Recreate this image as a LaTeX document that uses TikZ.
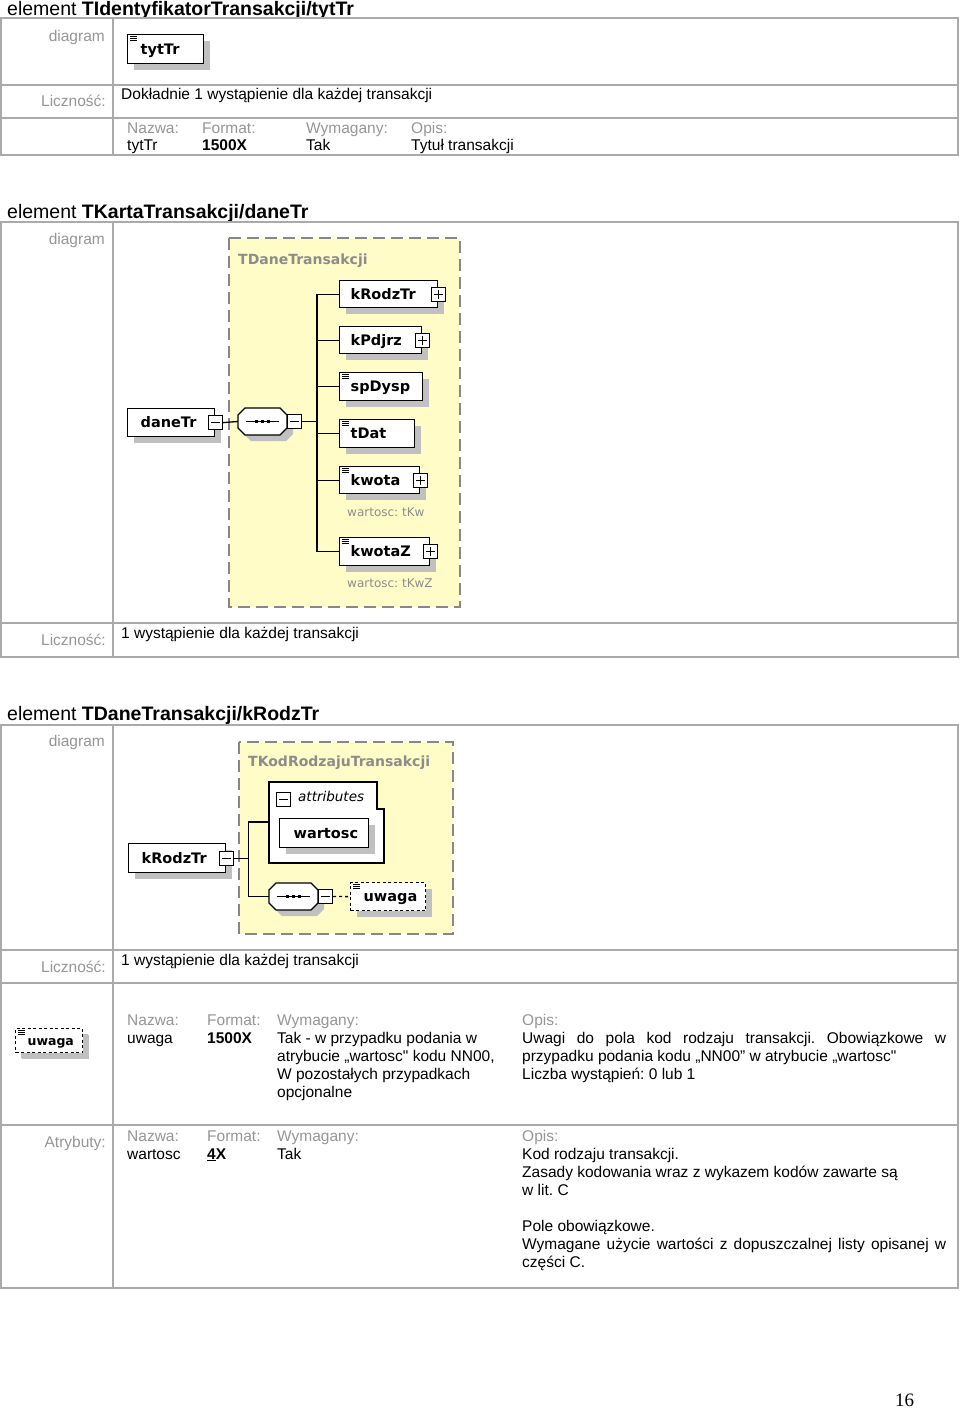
\documentclass[tikz,border=0pt]{standalone}
\usepackage{fontspec}
\setmainfont{Liberation Sans}[Ligatures=TeXOff]
\newfontfamily\dvfont{DejaVu Sans}
\newfontfamily\serfont{Liberation Serif}
\usetikzlibrary{shadows}
\definecolor{tblgray}{RGB}{170,170,170}
\definecolor{lblgray}{RGB}{150,150,150}
\definecolor{shgray}{RGB}{192,192,192}
\definecolor{yel}{RGB}{255,252,200}
\definecolor{dashgray}{RGB}{135,135,135}
\definecolor{grptxt}{RGB}{140,140,140}
\newcommand{\fb}{\fontsize{15.5}{18}\selectfont}
\newcommand{\plusbx}[2]{\node[pm] (#1) at (#2) {};
  \draw[line width=1pt] ([xshift=3pt]#1.west) -- ([xshift=-3pt]#1.east);
  \draw[line width=1pt] ([yshift=-3pt]#1.north) -- ([yshift=3pt]#1.south);}
\newcommand{\minusbx}[2]{\node[pm] (#1) at (#2) {};
  \draw[line width=1pt] ([xshift=3pt]#1.west) -- ([xshift=-3pt]#1.east);}
\newcommand{\ico}[1]{\draw[line width=0.8pt] ([shift={(3pt,-2.5pt)}]#1.north west) -- ++(7,0)
  ([shift={(3pt,-4.5pt)}]#1.north west) -- ++(7,0)
  ([shift={(3pt,-6.5pt)}]#1.north west) -- ++(7,0);}
% octagon: name, x1, y1, x2, y2
\newcommand{\octa}[5]{%
  \fill[shgray] (#2+13,#3+6) -- (#4-1,#3+6) -- (#4+6,#3+13) -- (#4+6,#5-1) -- (#4-1,#5+6) -- (#2+13,#5+6) -- (#2+6,#5-1) -- (#2+6,#3+13) -- cycle;
  \draw[line width=1.3pt,fill=white] (#2+7,#3) -- (#4-7,#3) -- (#4,#3+7) -- (#4,#5-7) -- (#4-7,#5) -- (#2+7,#5) -- (#2,#5-7) -- (#2,#3+7) -- cycle;
  \node[inner sep=0pt,minimum width=#4-#2,minimum height=#5-#3] (#1) at ({(#2+#4)/2},{(#3+#5)/2}) {};
  \draw[line width=1.2pt] ([xshift=8pt]#1.west) -- ([xshift=-8pt]#1.east);
  \fill ([shift={(-7.5pt,1.5pt)}]#1.center) rectangle ++(3,3);
  \fill ([shift={(-1.5pt,1.5pt)}]#1.center) rectangle ++(3,3);
  \fill ([shift={(4.5pt,1.5pt)}]#1.center) rectangle ++(3,3);}
\begin{document}
\frenchspacing
\begin{tikzpicture}[x=1pt,y=-1pt,
  tbl/.style={draw=tblgray,line width=1.5pt},
  lab/.style={text=lblgray,font=\fb,anchor=base east,inner sep=0pt},
  hd/.style={text=lblgray,font=\fb,anchor=base west,inner sep=0pt},
  val/.style={text=black,font=\fb,anchor=base west,inner sep=0pt},
  ttl/.style={font=\fontsize{19.5}{22}\selectfont,anchor=base west,inner sep=0pt},
  elem/.style={draw=black,line width=1.3pt,fill=white,inner xsep=11pt,inner ysep=0pt,
    minimum height=28pt,text height=10pt,text depth=0pt,align=left,
    font=\dvfont\bfseries\fontsize{14.5}{14}\selectfont,anchor=north west,
    general shadow={fill=shgray,shadow xshift=6pt,shadow yshift=-6pt}},
  grp/.style={draw=dashgray,line width=1.3pt,fill=yel,dash pattern=on 12pt off 6pt},
  grpt/.style={text=grptxt,font=\dvfont\bfseries\fontsize{14}{14}\selectfont,anchor=base west,inner sep=0pt},
  note/.style={text=grptxt,font=\dvfont\fontsize{12}{12}\selectfont,anchor=base west,inner sep=0pt},
  conn/.style={draw=black,line width=1.3pt},
  pm/.style={draw=black,line width=1pt,fill=white,minimum size=14pt,inner sep=0pt}]
\fill[white] (0,0) rectangle (960,1408);
\useasboundingbox (0,0) rectangle (960,1408);

%% ---------------- Section 1 ----------------
\node[ttl] (T1) at (7,15) {element \textbf{TIdentyfikatorTransakcji/tytTr}};
\draw[tbl] (1,18) rectangle (958,155);
\draw[tbl] (1,85) -- (958,85) (1,118) -- (958,118) (113,18) -- (113,155);
\node[lab] (d1) at (105,41) {diagram};
\node[elem,inner xsep=13pt,text width=50pt,minimum height=29pt] (tytTr) at (127,34) {tytTr};
\ico{tytTr}
\node[lab] (l1) at (106,106) {Liczność:};
\node[val] (v1) at (121,99) {Dokładnie 1 wystąpienie dla każdej transakcji};
\node[hd] (h1a) at (127,133) {Nazwa:};
\node[hd] (h1b) at (202,133) {Format:};
\node[hd] (h1c) at (306,133) {Wymagany:};
\node[hd] (h1d) at (411,133) {Opis:};
\node[val] (v1a) at (127,150) {tytTr};
\node[val] (v1b) at (202,150) {\textbf{1500X}};
\node[val] (v1c) at (306,150) {Tak};
\node[val] (v1d) at (411,150) {Tytuł transakcji};

%% ---------------- Section 2 ----------------
\node[ttl] (T2) at (7,218) {element \textbf{TKartaTransakcji/daneTr}};
\draw[tbl] (1,222) rectangle (958,657);
\draw[tbl] (1,623) -- (958,623) (113,222) -- (113,657);
\node[lab] (d2) at (105,244) {diagram};
\draw[grp] (229,238) rectangle (460,607);
\node[grpt] (g2) at (238,264) {TDaneTransakcji};

\node[elem,inner xsep=13pt,text width=61pt] (daneTr) at (127,408) {daneTr};
\minusbx{mD}{daneTr.east}
\octa{seqA}{238}{408}{287}{435}
\minusbx{mA}{[xshift=7.5pt]seqA.east}
\draw[conn] (mD.east) -- (seqA.west);

\node[elem,text width=76pt,minimum height=27pt] (kRodzTr) at (339,280) {kRodzTr};
\plusbx{pR}{kRodzTr.east}
\node[elem,text width=60pt,minimum height=27pt] (kPdjrz) at (339,326) {kPdjrz};
\plusbx{pP}{kPdjrz.east}
\node[elem,text width=61pt,minimum height=28pt] (spDysp) at (339,372) {spDysp};
\ico{spDysp}
\node[elem,text width=53pt,minimum height=28pt] (tDat) at (339,419) {tDat};
\ico{tDat}
\node[elem,text width=58pt,minimum height=27pt] (kwota) at (339,466) {kwota};
\ico{kwota}
\plusbx{pK}{kwota.east}
\node[note] (n1) at (347,516) {wartosc: tKw};
\node[elem,text width=68pt,minimum height=28pt] (kwotaZ) at (339,537) {kwotaZ};
\ico{kwotaZ}
\plusbx{pZ}{kwotaZ.east}
\node[note] (n2) at (347,587) {wartosc: tKwZ};

\draw[conn] (kRodzTr.west) -- ++(-22,0) coordinate (trA) |- (kwotaZ.west);
\draw[conn] (mA.east) -- (mA.east -| trA);
\draw[conn] (kPdjrz.west) -- ++(-22,0);
\draw[conn] (spDysp.west) -- ++(-22,0);
\draw[conn] (tDat.west) -- ++(-22,0);
\draw[conn] (kwota.west) -- ++(-22,0);

\node[lab] (l2) at (106,645) {Liczność:};
\node[val] (v2) at (121,638) {1 wystąpienie dla każdej transakcji};

%% ---------------- Section 3 ----------------
\node[ttl] (T3) at (7,720) {element \textbf{TDaneTransakcji/kRodzTr}};
\draw[tbl] (1,725) rectangle (958,1288);
\draw[tbl] (1,950) -- (958,950) (1,983) -- (958,983) (1,1125) -- (958,1125) (113,725) -- (113,1288);
\node[lab] (d3) at (105,746) {diagram};
\draw[grp] (239,742) rectangle (453,934);
\node[grpt] (g3) at (248,766) {TKodRodzajuTransakcji};

\node[elem,inner xsep=13pt,text width=71pt,minimum height=29pt] (kRodzTr3) at (128,843) {kRodzTr};
\minusbx{mK}{kRodzTr3.east}

\draw[line width=1.3pt,fill=white] (269,782) -- (377,782) -- (377,809) -- (384,809) -- (384,863) -- (269,863) -- cycle;
\coordinate (attrL) at (269,822);
\minusbx{mAt}{283,799.5}
\node[inner sep=0pt,anchor=base west,font=\dvfont\itshape\fontsize{13.5}{14}\selectfont] (attrT) at (298,801) {attributes};
\node[elem,inner xsep=14pt,text width=61pt,minimum height=29pt] (wartosc) at (279,818) {wartosc};

\octa{seqB}{269}{883}{318}{910}
\minusbx{mB}{[xshift=7.5pt]seqB.east}
\node[elem,inner xsep=13pt,text width=49pt,minimum height=28pt,dash pattern=on 3pt off 2.5pt] (uwagaD) at (350,882) {uwaga};
\ico{uwagaD}

\draw[conn] (mK.east) -- ++(15,0) coordinate (trB);
\draw[conn] (attrL) -- (attrL -| trB) |- (seqB.west);
\draw[conn,dash pattern=on 3pt off 3pt] (mB.east) -- (uwagaD.west);

\node[lab] (l3) at (106,972) {Liczność:};
\node[val] (v3) at (121,965) {1 wystąpienie dla każdej transakcji};

% uwaga row
\node[elem,inner xsep=12pt,text width=43pt,minimum height=24pt,text height=9pt,
  font=\dvfont\bfseries\fontsize{12.5}{13}\selectfont,dash pattern=on 3pt off 2.5pt,
  general shadow={fill=shgray,shadow xshift=5pt,shadow yshift=-5pt}] (uwagaT) at (15,1028) {uwaga};
\ico{uwagaT}
\node[hd] (h3a) at (127,1025) {Nazwa:};
\node[hd] (h3b) at (207,1025) {Format:};
\node[hd] (h3c) at (277,1025) {Wymagany:};
\node[hd] (h3d) at (522,1025) {Opis:};
\node[val] (v3a) at (127,1043) {uwaga};
\node[val] (v3b) at (207,1043) {\textbf{1500X}};
\node[val] (v3c1) at (277,1043) {Tak - w przypadku podania w};
\node[val] (v3c2) at (277,1061) {atrybucie „wartosc" kodu NN00,};
\node[val] (v3c3) at (277,1079) {W pozostałych przypadkach};
\node[val] (v3c4) at (277,1097) {opcjonalne};
\node[val] (v3d1) at (522,1043) {\makebox[424pt][s]{Uwagi do pola kod rodzaju transakcji. Obowiązkowe w}};
\node[val] (v3d2) at (522,1061) {przypadku podania kodu „NN00” w atrybucie „wartosc"};
\node[val] (v3d3) at (522,1079) {Liczba wystąpień: 0 lub 1};

% Atrybuty row
\node[lab] (l4) at (106,1147) {Atrybuty:};
\node[hd] (h4a) at (127,1141) {Nazwa:};
\node[hd] (h4b) at (207,1141) {Format:};
\node[hd] (h4c) at (277,1141) {Wymagany:};
\node[hd] (h4d) at (522,1141) {Opis:};
\node[val] (v4a) at (127,1159) {wartosc};
\node[val] (v4b) at (207,1159) {\textbf{\underline{4}X}};
\node[val] (v4c) at (277,1159) {Tak};
\node[val] (v4d1) at (522,1159) {Kod rodzaju transakcji.};
\node[val] (v4d2) at (522,1177) {Zasady kodowania wraz z wykazem kodów zawarte są};
\node[val] (v4d3) at (522,1195) {w lit. C};
\node[val] (v4d4) at (522,1231) {Pole obowiązkowe.};
\node[val] (v4d5) at (522,1249) {\makebox[424pt][s]{Wymagane użycie wartości z dopuszczalnej listy opisanej w}};
\node[val] (v4d6) at (522,1267) {części C.};

\node[anchor=base west,inner sep=0pt,font=\serfont\fontsize{19}{20}\selectfont] (pg) at (895,1406) {16};
\end{tikzpicture}
\end{document}
